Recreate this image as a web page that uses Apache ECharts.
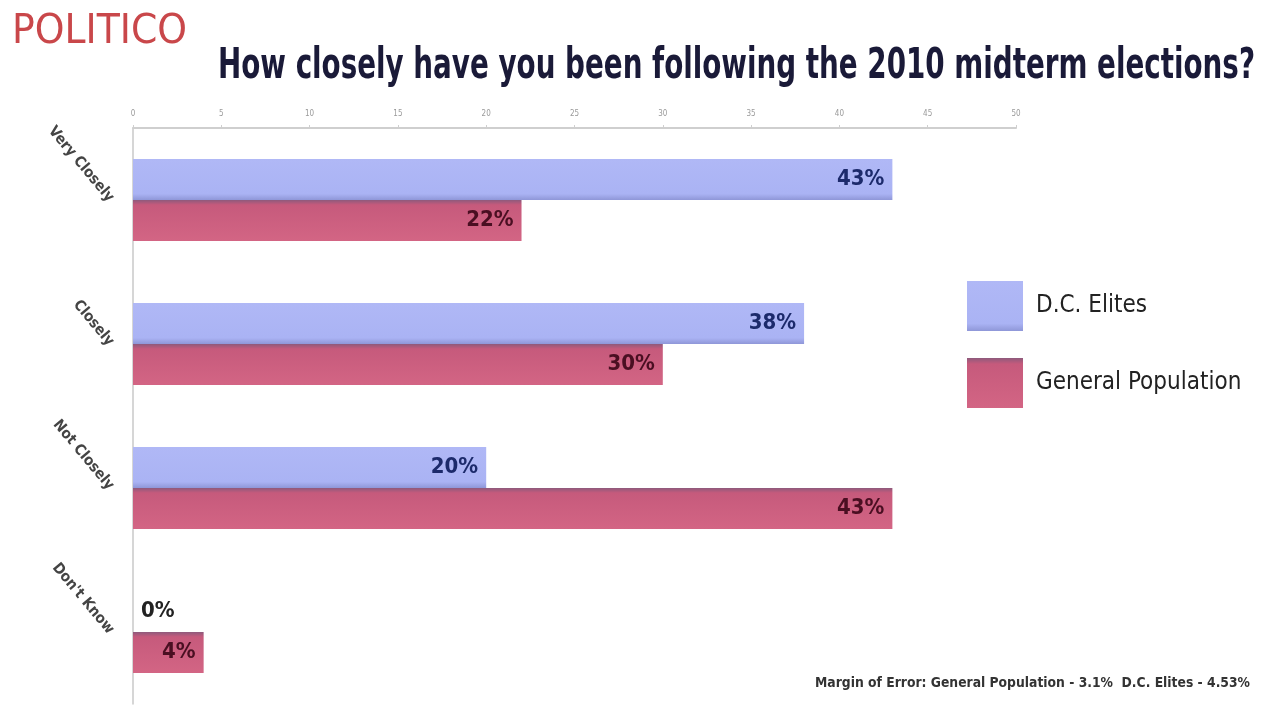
<!DOCTYPE html>
<html><head><meta charset="utf-8">
<script src="https://cdn.jsdelivr.net/npm/echarts@6/dist/echarts.min.js"></script>
<style>html,body{margin:0;padding:0;background:#fff}#c{width:1280px;height:717px}</style>
</head><body><div id="c"></div>
<script>
const categories = ['Very Closely', 'Closely', 'Not Closely', "Don't Know"];
const seriesNames = ['D.C. Elites', 'General Population'];
const dcElites = [43, 38, 20, 0];
const generalPopulation = [22, 30, 43, 4];
const xTicks = [0, 5, 10, 15, 20, 25, 30, 35, 40, 45, 50];
const titleText = 'How closely have you been following the 2010 midterm elections?';
const noteText = 'Margin of Error: General Population - 3.1%  D.C. Elites - 4.53%';
const logoText = 'POLITICO';

const FONT = '"DejaVu Sans Condensed", "Liberation Sans", sans-serif';
const blue = '#aab3f4', red = '#cf5f80';

const ctx = document.createElement('canvas').getContext('2d');
function fitScale(text, font, targetW) {
  ctx.font = font;
  return targetW / ctx.measureText(text).width;
}
const titleFont = 'bold 42px ' + FONT;
const titleScale = fitScale(titleText, titleFont, 1037);
const logoFont = '40px ' + FONT;
const logoScale = fitScale(logoText, logoFont, 175);
const noteFont = 'bold 14px ' + FONT;
const noteScale = fitScale(noteText, noteFont, 435);

function mkData(arr) {
  return arr.map(v => v === 0
    ? { value: v, label: { position: 'right', distance: 8, color: '#222' } }
    : { value: v });
}

const chart = echarts.init(document.getElementById('c'));
chart.setOption({
  backgroundColor: '#fff',
  animation: false,
  grid: { left: 133, right: 264, top: 128, bottom: 13, containLabel: false },
  xAxis: {
    type: 'value', position: 'top', min: 0, max: 50, interval: 5,
    axisLine: { show: true, lineStyle: { color: '#cfcfcf', width: 2 } },
    axisTick: { show: true, length: 3, lineStyle: { color: '#cfcfcf' } },
    splitLine: { show: false },
    axisLabel: { color: '#9a9a9a', fontSize: 8, margin: 10, fontFamily: FONT,
      formatter: v => xTicks.includes(v) ? String(v) : '' }
  },
  yAxis: {
    type: 'category', data: categories, inverse: true,
    axisLine: { show: true, lineStyle: { color: '#c8c8c8', width: 1.5 } },
    axisTick: { show: false },
    axisLabel: { rotate: -50, color: '#444', fontSize: 15, margin: 22, fontFamily: FONT, fontWeight: 'bold' }
  },
  legend: {
    orient: 'vertical', left: 962, top: 276, itemWidth: 56, itemHeight: 50, itemGap: 27,
    icon: 'rect',
    textStyle: { fontSize: 24, color: '#222', fontFamily: FONT, padding: [0, 0, 0, 8] },
    data: seriesNames
  },
  series: [
    { name: seriesNames[0], type: 'bar', data: mkData(dcElites), barWidth: 41, barGap: '0%',
      itemStyle: { color: new echarts.graphic.LinearGradient(0, 0, 0, 1, [
        { offset: 0, color: '#b0b8f6' }, { offset: 0.85, color: '#aab3f4' }, { offset: 1, color: '#8f97d8' }]) },
      label: { show: true, position: 'insideRight', distance: 8, formatter: '{c}%', color: '#1c2a6b',
        fontSize: 22, fontFamily: FONT, fontWeight: 'bold' } },
    { name: seriesNames[1], type: 'bar', data: mkData(generalPopulation), barWidth: 41,
      itemStyle: { color: new echarts.graphic.LinearGradient(0, 0, 0, 1, [
        { offset: 0, color: '#8e5a7c' }, { offset: 0.12, color: '#c65a7c' }, { offset: 1, color: '#d36584' }]) },
      label: { show: true, position: 'insideRight', distance: 8, formatter: '{c}%', color: '#4a0f22',
        fontSize: 22, fontFamily: FONT, fontWeight: 'bold' } }
  ],
  color: [blue, red],
  graphic: [
    { type: 'text', x: 12, y: 13, scaleX: logoScale, style: { text: logoText, fill: '#c9474a', font: logoFont } },
    { type: 'text', x: 218, y: 46, scaleX: titleScale, style: { text: titleText, fill: '#1a1a38', font: titleFont } },
    { type: 'text', x: 815, y: 676, scaleX: noteScale, style: { text: noteText, fill: '#333', font: noteFont } }
  ]
});
</script></body></html>
